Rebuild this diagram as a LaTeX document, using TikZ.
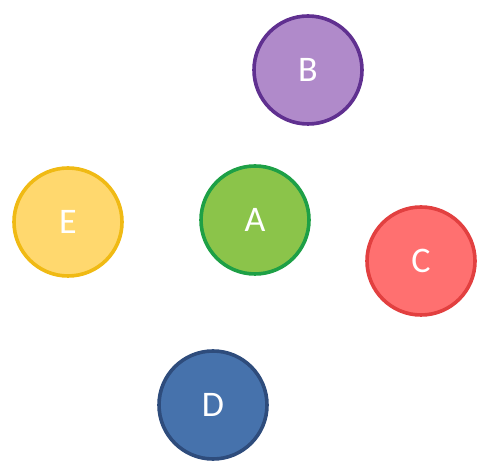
\documentclass[tikz,border=0pt]{standalone}
\usepackage{fontspec}
\setmainfont{Carlito}
\usepackage{tikz}
\usetikzlibrary{positioning}

\definecolor{fillA}{RGB}{139,196,74}
\definecolor{lineA}{RGB}{30,160,70}
\definecolor{fillB}{RGB}{176,138,202}
\definecolor{lineB}{RGB}{96,48,144}
\definecolor{fillC}{RGB}{255,112,112}
\definecolor{lineC}{RGB}{226,64,64}
\definecolor{fillD}{RGB}{70,114,172}
\definecolor{lineD}{RGB}{46,76,124}
\definecolor{fillE}{RGB}{255,216,110}
\definecolor{lineE}{RGB}{240,186,20}

\begin{document}
\begin{tikzpicture}[
    x=0.5pt, y=-0.5pt,
    ball/.style={circle, line width=1.8pt, minimum size=54pt, inner sep=0pt, text=white, font=\fontsize{18}{20}\selectfont},
]
    \useasboundingbox (0,0) rectangle (491,474);
    \node[ball, draw=lineA, fill=fillA] (a) at (255,220) {A};
    \node[ball, draw=lineB, fill=fillB] (b) at (308,70) {B};
    \node[ball, draw=lineC, fill=fillC] (c) at (421,261) {C};
    \node[ball, draw=lineD, fill=fillD] (d) at (213,405) {D};
    \node[ball, draw=lineE, fill=fillE] (e) at (68,222) {E};
\end{tikzpicture}
\end{document}
